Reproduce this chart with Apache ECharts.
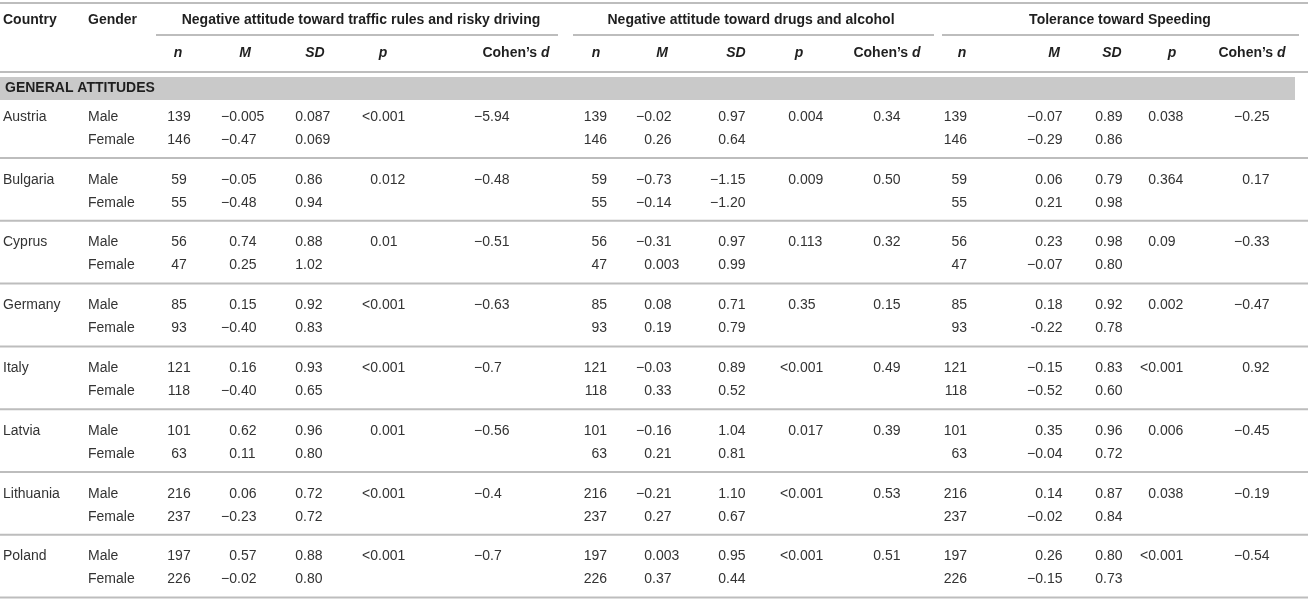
<!DOCTYPE html>
<html><head><meta charset="utf-8">
<script src="https://cdn.jsdelivr.net/npm/echarts@6/dist/echarts.min.js"></script>
<style>html,body{margin:0;padding:0;background:#fff}#c{width:1308px;height:600px}</style>
</head><body><div id="c"></div>
<script>
// ---------- DATA ----------
const countries = ['Austria','Bulgaria','Cyprus','Germany','Italy','Latvia','Lithuania','Poland'];
const genders = ['Male','Female'];
const headCountry = 'Country';
const headGender = 'Gender';
const sectionLabel = 'GENERAL ATTITUDES';
const groupTitles = ['Negative attitude toward traffic rules and risky driving','Negative attitude toward drugs and alcohol','Tolerance toward Speeding'];
const statHeaders = ['n','M','SD','p','d'];

const trafficN  = [[139,146],[59,55],[56,47],[85,93],[121,118],[101,63],[216,237],[197,226]];
const trafficM  = [['−0.005','−0.47'],['−0.05','−0.48'],['0.74','0.25'],['0.15','−0.40'],['0.16','−0.40'],['0.62','0.11'],['0.06','−0.23'],['0.57','−0.02']];
const trafficSD = [['0.087','0.069'],['0.86','0.94'],['0.88','1.02'],['0.92','0.83'],['0.93','0.65'],['0.96','0.80'],['0.72','0.72'],['0.88','0.80']];
const trafficP  = ['<0.001','0.012','0.01','<0.001','<0.001','0.001','<0.001','<0.001'];
const trafficD  = ['−5.94','−0.48','−0.51','−0.63','−0.7','−0.56','−0.4','−0.7'];

const drugsN  = [[139,146],[59,55],[56,47],[85,93],[121,118],[101,63],[216,237],[197,226]];
const drugsM  = [['−0.02','0.26'],['−0.73','−0.14'],['−0.31','0.003'],['0.08','0.19'],['−0.03','0.33'],['−0.16','0.21'],['−0.21','0.27'],['0.003','0.37']];
const drugsSD = [['0.97','0.64'],['−1.15','−1.20'],['0.97','0.99'],['0.71','0.79'],['0.89','0.52'],['1.04','0.81'],['1.10','0.67'],['0.95','0.44']];
const drugsP  = ['0.004','0.009','0.113','0.35','<0.001','0.017','<0.001','<0.001'];
const drugsD  = ['0.34','0.50','0.32','0.15','0.49','0.39','0.53','0.51'];

const speedN  = [[139,146],[59,55],[56,47],[85,93],[121,118],[101,63],[216,237],[197,226]];
const speedM  = [['−0.07','−0.29'],['0.06','0.21'],['0.23','−0.07'],['0.18','-0.22'],['−0.15','−0.52'],['0.35','−0.04'],['0.14','−0.02'],['0.26','−0.15']];
const speedSD = [['0.89','0.86'],['0.79','0.98'],['0.98','0.80'],['0.92','0.78'],['0.83','0.60'],['0.96','0.72'],['0.87','0.84'],['0.80','0.73']];
const speedP  = ['0.038','0.364','0.09','0.002','<0.001','0.006','0.038','<0.001'];
const speedD  = ['−0.25','0.17','−0.33','−0.47','0.92','−0.45','−0.19','−0.54'];

const groupsData = [
  [trafficN, trafficM, trafficSD, trafficP, trafficD],
  [drugsN, drugsM, drugsSD, drugsP, drugsD],
  [speedN, speedM, speedSD, speedP, speedD]
];

// ---------- LAYOUT (styling / positions, not data) ----------
const W = 1308, H = 600;
const FONT = '"Liberation Sans", Arial, Helvetica, sans-serif';
const layout = {
  titleY: 20, underlineY: 35, statHeadY: 53, headLineY: 72, topLineY: 3,
  bandTop: 77, bandBottom: 100, bandRight: 1295, bandTextY: 88,
  firstRowY: 117, rowGap: 23, blockH: 62.8, sepOffset: 41,
  countryX: 3, genderX: 88
};
const groupLayout = [
  { title: 361, line: [156, 558], head: [178, 245, 315, 383, 516],
    cols: [{x:179,a:'center'},{x:237,a:'dec'},{x:303,a:'dec'},{x:378,a:'dec'},{x:490,a:'dec'}] },
  { title: 751, line: [573, 934], head: [596, 662, 736, 799, 887],
    cols: [{x:607,a:'right'},{x:652,a:'dec'},{x:726,a:'dec'},{x:796,a:'dec'},{x:881,a:'dec'}] },
  { title: 1120, line: [942, 1299], head: [962, 1054, 1112, 1172, 1252],
    cols: [{x:967,a:'right'},{x:1043,a:'dec'},{x:1103,a:'dec'},{x:1156,a:'dec'},{x:1250,a:'dec'}] }
];

// ---------- BUILD ITEMS ----------
const items = [];
items.push({kind:'rect', x1:0, y1:layout.bandTop, x2:layout.bandRight, y2:layout.bandBottom});
items.push({kind:'line', x1:0, x2:W, y:layout.topLineY});
items.push({kind:'line', x1:0, x2:W, y:layout.headLineY});
groupLayout.forEach(g => items.push({kind:'line', x1:g.line[0], x2:g.line[1], y:layout.underlineY}));
countries.forEach((c, i) => {
  items.push({kind:'line', x1:0, x2:W, y: layout.firstRowY + layout.blockH*i + layout.sepOffset});
});

const hdr = {weight:'bold', color:'#1f1f1f'};
items.push({kind:'text', x:layout.countryX, y:layout.titleY, text:headCountry, a:'left', ...hdr});
items.push({kind:'text', x:layout.genderX, y:layout.titleY, text:headGender, a:'left', ...hdr});
groupTitles.forEach((t, gi) => items.push({kind:'text', x:groupLayout[gi].title, y:layout.titleY, text:t, a:'center', ...hdr}));
groupLayout.forEach(g => {
  statHeaders.forEach((s, si) => {
    if (si === 4) items.push({kind:'text', x:g.head[si], y:layout.statHeadY, text:'Cohen\u2019s {i|' + s + '}', a:'center', rich:true, ...hdr});
    else items.push({kind:'text', x:g.head[si], y:layout.statHeadY, text:s, a:'center', italic:true, ...hdr});
  });
});
items.push({kind:'text', x:5, y:layout.bandTextY, text:sectionLabel, a:'left', ...hdr});

countries.forEach((c, i) => {
  const yM = layout.firstRowY + layout.blockH*i;
  const ys = [yM, yM + layout.rowGap];
  items.push({kind:'text', x:layout.countryX, y:yM, text:c, a:'left'});
  genders.forEach((g, gi) => items.push({kind:'text', x:layout.genderX, y:ys[gi], text:g, a:'left'}));
  groupsData.forEach((gd, gIdx) => {
    const cols = groupLayout[gIdx].cols;
    const [N, M, SD, P, D] = gd;
    [0,1].forEach(r => {
      items.push({kind:'text', x:cols[0].x, y:ys[r], text:String(N[i][r]), a:cols[0].a});
      items.push({kind:'text', x:cols[1].x, y:ys[r], text:M[i][r], a:cols[1].a});
      items.push({kind:'text', x:cols[2].x, y:ys[r], text:SD[i][r], a:cols[2].a});
    });
    items.push({kind:'text', x:cols[3].x, y:ys[0], text:P[i], a:cols[3].a});
    items.push({kind:'text', x:cols[4].x, y:ys[0], text:D[i], a:cols[4].a});
  });
});

function textEl(x, y, text, align, it) {
  const st = {
    text: text, x: x, y: y,
    fontSize: 14, fontFamily: FONT,
    fontWeight: it.weight || 'normal',
    fontStyle: it.italic ? 'italic' : 'normal',
    fill: it.color || '#333333',
    align: align, verticalAlign: 'middle',
    textAlign: align, textVerticalAlign: 'middle'
  };
  if (it.rich) st.rich = { i: { fontStyle:'italic', fontWeight:'bold', fontSize:14, fontFamily:FONT, fill: it.color } };
  return { type:'text', style: st, silent:true };
}

function renderItem(params, api) {
  const it = items[params.dataIndex];
  if (it.kind === 'rect') {
    const p1 = api.coord([it.x1, it.y1]), p2 = api.coord([it.x2, it.y2]);
    return {type:'rect', shape:{x:p1[0], y:p1[1], width:p2[0]-p1[0], height:p2[1]-p1[1]}, style:{fill:'#c9c9c9'}, silent:true};
  }
  if (it.kind === 'line') {
    const p1 = api.coord([it.x1, it.y]), p2 = api.coord([it.x2, it.y]);
    return {type:'line', shape:{x1:p1[0], y1:p1[1], x2:p2[0], y2:p2[1]}, style:{stroke:'#bdbdbd', lineWidth:2}, silent:true};
  }
  const p = api.coord([it.x, it.y]);
  if (it.a === 'dec') {
    const k = it.text.indexOf('.');
    const left = k >= 0 ? it.text.slice(0, k) : it.text;
    const right = k >= 0 ? it.text.slice(k) : '';
    return {type:'group', children:[textEl(p[0], p[1], left, 'right', it), textEl(p[0], p[1], right, 'left', it)]};
  }
  return textEl(p[0], p[1], it.text, it.a, it);
}

const chart = echarts.init(document.getElementById('c'), null, {renderer:'canvas'});
chart.setOption({
  animation: false,
  backgroundColor: '#ffffff',
  grid: {left:0, right:0, top:0, bottom:0},
  xAxis: {type:'value', min:0, max:W, show:false},
  yAxis: {type:'value', min:0, max:H, inverse:true, show:false},
  series: [{
    type:'custom',
    coordinateSystem:'cartesian2d',
    renderItem: renderItem,
    data: items.map((it, i) => [i, i]),
    silent: true
  }]
});
</script>
</body></html>
